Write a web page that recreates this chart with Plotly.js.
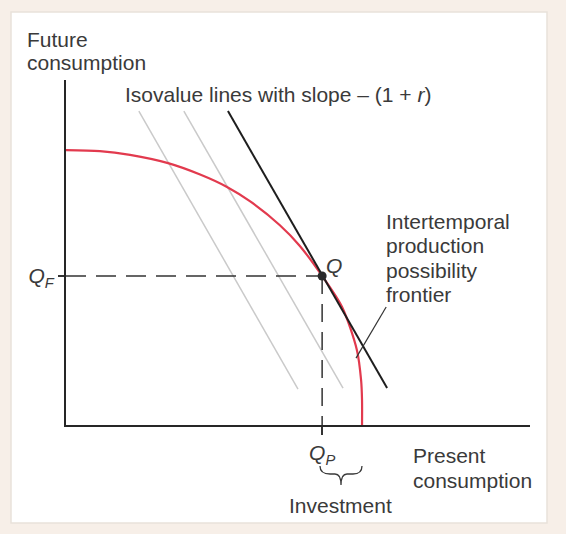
<!DOCTYPE html>
<html>
<head>
<meta charset="utf-8">
<script src="https://cdn.plot.ly/plotly-3.0.1.min.js"></script>
<style>
  html, body { margin: 0; padding: 0; background: #f7efe8; }
  #chart { width: 566px; height: 534px; }
</style>
</head>
<body>
<div id="chart"></div>
<script>
// ---- data (axis units 0..10) ----
const frontierX = [0, 0.73, 1.38, 2.2, 2.89, 3.47, 3.97, 4.61, 5.04, 5.52, 5.95, 6.27, 6.36, 6.38, 6.38];
const frontierY = [7.97, 7.94, 7.83, 7.59, 7.26, 6.9, 6.48, 5.79, 5.19, 4.32, 3.42, 2.17, 1.3, 0.72, 0];
const isoTangentX = [3.49, 6.92];
const isoTangentY = [9.1, 1.07];
const isoLow1X = [1.57, 5.0];
const isoLow1Y = [9.1, 1.04];
const isoLow2X = [2.54, 5.97];
const isoLow2Y = [9.1, 1.07];
const pointQ = [5.52, 4.32];
const leaderX = [6.9, 6.25];
const leaderY = [3.42, 1.94];
const yTickLabels = ['<i>Q</i><sub><i>F</i></sub>'];
const xTickLabels = ['<i>Q</i><sub><i>P</i></sub>'];
const titleText = 'Isovalue lines with slope \u2013 (1 + <i>r</i>)';
const yLabelLines = ['Future', 'consumption'];
const xLabelLines = ['Present', 'consumption'];
const frontierLabelLines = ['Intertemporal', 'production', 'possibility', 'frontier'];
const investmentLabel = 'Investment';

// ---- layout helpers (pixel -> paper) ----
const L = 66, R = 36, T = 80, B = 109, W = 566, H = 534;
const pw = W - L - R, ph = H - T - B;
const px = x => (x - L) / pw;
const py = y => (H - B - y) / ph;

const FONT = 'Liberation Sans, Arial, Helvetica, sans-serif';
const TXT = '#3a3a3a';
const AX = '#262626';
const FS = 21;

function ann(text, x, y, xanchor) {
  return { text: text, xref: 'paper', yref: 'paper', x: px(x), y: py(y),
    xanchor: xanchor || 'left', yanchor: 'middle', showarrow: false,
    font: { family: FONT, size: FS, color: TXT } };
}

const annotations = [];
yLabelLines.forEach((t, i) => annotations.push(ann(t, 25, 40 + i * 23)));
annotations.push(ann(titleText, 123, 95));
frontierLabelLines.forEach((t, i) => annotations.push(ann(t, 384, 221 + i * 24.5)));
xLabelLines.forEach((t, i) => annotations.push(ann(t, 411, 455 + i * 25)));
annotations.push(ann(investmentLabel, 340.5, 505, 'center'));
annotations.push(ann('<i>Q</i>', 334, 265, 'center'));

// brace under Q_P
function P(x, y) { return px(x).toFixed(4) + ',' + py(y).toFixed(4); }
const bracePath = 'M ' + P(320, 466) + ' C ' + P(320, 472) + ' ' + P(324, 474) + ' ' + P(330, 474) +
  ' L ' + P(335, 474) + ' C ' + P(339, 474) + ' ' + P(341, 477) + ' ' + P(341, 485) +
  ' C ' + P(341, 477) + ' ' + P(343, 474) + ' ' + P(347, 474) +
  ' L ' + P(353, 474) + ' C ' + P(359, 474) + ' ' + P(362, 472) + ' ' + P(362, 466);

const shapes = [
  { type: 'rect', xref: 'paper', yref: 'paper', layer: 'below',
    x0: px(11), x1: px(547), y0: py(523), y1: py(12),
    fillcolor: '#ffffff', line: { color: '#e9e2da', width: 1.5 } },
  { type: 'path', xref: 'paper', yref: 'paper', path: bracePath,
    line: { color: '#3a3a3a', width: 1.3 } }
];

const traces = [
  { x: isoLow1X, y: isoLow1Y, mode: 'lines', line: { color: '#cacaca', width: 1.5 }, hoverinfo: 'skip' },
  { x: isoLow2X, y: isoLow2Y, mode: 'lines', line: { color: '#cacaca', width: 1.5 }, hoverinfo: 'skip' },
  { x: [0, pointQ[0]], y: [pointQ[1], pointQ[1]], mode: 'lines',
    line: { color: '#333333', width: 1.5, dash: '20px,10px' }, hoverinfo: 'skip' },
  { x: [pointQ[0], pointQ[0]], y: [pointQ[1], 0], mode: 'lines',
    line: { color: '#333333', width: 1.5, dash: '18px,10px' }, hoverinfo: 'skip' },
  { x: frontierX, y: frontierY, mode: 'lines', line: { color: '#e23a4e', width: 2.2, shape: 'spline', smoothing: 0.8 }, hoverinfo: 'skip' },
  { x: isoTangentX, y: isoTangentY, mode: 'lines', line: { color: '#1e1e1e', width: 2 }, hoverinfo: 'skip' },
  { x: leaderX, y: leaderY, mode: 'lines', line: { color: '#333333', width: 1.2 }, hoverinfo: 'skip' },
  { x: [pointQ[0]], y: [pointQ[1]], mode: 'markers', marker: { color: '#2a2a2a', size: 9 }, hoverinfo: 'skip' }
];

const layout = {
  width: W, height: H,
  margin: { l: L, r: R, t: T, b: B, pad: 0 },
  paper_bgcolor: '#f7efe8',
  plot_bgcolor: 'rgba(0,0,0,0)',
  showlegend: false,
  xaxis: { range: [0, 10], showgrid: false, zeroline: false, showline: true,
    linecolor: AX, linewidth: 2, tickmode: 'array', tickvals: [pointQ[0]], ticktext: xTickLabels,
    ticks: 'outside', ticklen: 8, tickwidth: 1.5, tickcolor: '#333333',
    tickfont: { family: FONT, size: FS, color: TXT }, fixedrange: true },
  yaxis: { range: [0, 10], showgrid: false, zeroline: false, showline: true,
    linecolor: AX, linewidth: 2, tickmode: 'array', tickvals: [pointQ[1]], ticktext: yTickLabels,
    ticks: 'outside', ticklen: 6, tickwidth: 1.5, tickcolor: '#333333',
    tickfont: { family: FONT, size: FS, color: TXT }, fixedrange: true },
  annotations: annotations,
  shapes: shapes
};

Plotly.newPlot('chart', traces, layout, { displayModeBar: false, staticPlot: true });
</script>
</body>
</html>
